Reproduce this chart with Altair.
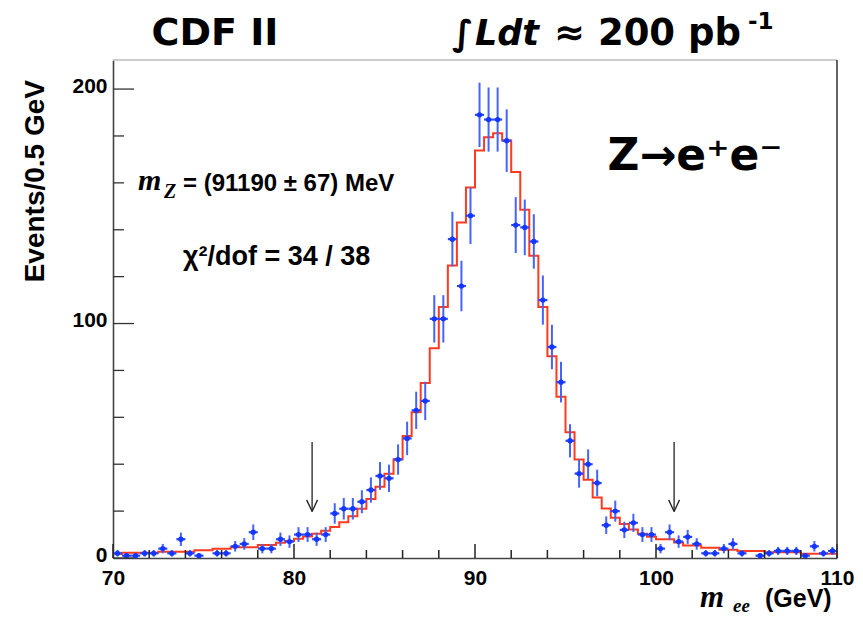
import math
import altair as alt
import pandas as pd

# ---------------- data ----------------
X_MIN, X_MAX, BIN_W = 70.0, 110.0, 0.5
Y_MAX = 212.4

counts = [2, 1, 1, 2, 2, 4, 2, 8, 2, 1,
          0, 2, 2, 5, 6, 11, 4, 4, 8, 7,
          10, 10, 8, 10, 19, 21, 21, 24, 29, 35,
          34, 42, 51, 63, 67, 102, 102, 136, 116, 146,
          189, 187, 187, 178, 142, 141, 135, 110, 90, 75,
          50, 36, 40, 32, 14, 20, 12, 15, 10, 10,
          4, 11, 7, 9, 6, 2, 2, 4, 6, 2,
          0, 1, 2, 3, 3, 3, 1, 5, 2, 3]

fit_vals = [1.8, 2.2, 2.2, 2.2, 2.2, 2.7, 2.7, 2.7, 2.7, 3.3,
            3.3, 3.9, 3.9, 4.6, 4.6, 4.6, 5.5, 5.5, 6.5, 7.3,
            8.2, 9.2, 10.3, 11.6, 13.2, 15.2, 17.8, 21.0, 25.2, 30.4,
            35.9, 42.1, 52.0, 62.2, 74.6, 89.5, 107.0, 124.8, 143.1, 158.0,
            173.8, 179.4, 181.2, 178.1, 164.6, 148.5, 128.9, 107.0, 86.0, 68.8,
            53.6, 42.0, 33.4, 25.8, 21.1, 17.2, 14.5, 12.2, 10.3, 9.1,
            8.0, 8.0, 6.6, 5.3, 5.3, 4.4, 4.4, 3.5, 3.5, 3.0,
            3.0, 3.0, 2.5, 2.5, 2.5, 2.5, 1.8, 1.8, 1.8, 1.8]

x_major = [70, 80, 90, 100, 110]
x_minor = [72, 74, 76, 78, 82, 84, 86, 88, 92, 94, 96, 98, 102, 104, 106, 108]
y_major = [0, 100, 200]
y_minor = [20, 40, 60, 80, 120, 140, 160, 180]

arrow_x = [81.0, 101.0]
arrow_top = [49.5, 49.5]
arrow_tip = [19.8, 19.8]

# ---------------- tables ----------------
W, H = 724, 498
centers = [X_MIN + BIN_W * (i + 0.5) for i in range(len(counts))]
pts = pd.DataFrame({"c": centers, "n": counts})
pts = pts[pts["n"] > 0].copy()
pts["lo"] = pts["n"] - pts["n"].apply(math.sqrt)
pts["hi"] = pts["n"] + pts["n"].apply(math.sqrt)
pts["xl"] = pts["c"] - BIN_W / 2
pts["xr"] = pts["c"] + BIN_W / 2

edges = [X_MIN + BIN_W * i for i in range(len(fit_vals) + 1)]
fit_df = pd.DataFrame({"x": edges, "y": fit_vals + [fit_vals[-1]]})

arr = pd.DataFrame({"x": arrow_x, "top": arrow_top, "tip": arrow_tip})
heads = []
for ax, tp in zip(arrow_x, arrow_tip):
    heads.append({"x1": ax - 0.3, "y1": tp + 5.0, "x2": ax, "y2": tp})
    heads.append({"x1": ax + 0.3, "y1": tp + 5.0, "x2": ax, "y2": tp})
heads = pd.DataFrame(heads)

xs = alt.Scale(domain=[X_MIN, X_MAX], nice=False, zero=False)
ys = alt.Scale(domain=[0, Y_MAX], nice=False, zero=False)
XA = alt.Axis(values=x_major, ticks=False, grid=False, title=None, labelFlush=False,
              labelPadding=9, format="d")
YA = alt.Axis(values=y_major, ticks=False, grid=False, title=None, labelPadding=6,
              labelOffset=-3, format="d")

SANS = "Liberation Sans"
COMIC = "DejaVu Sans"
SERIF = "Liberation Serif"

fit_line = alt.Chart(fit_df).mark_line(interpolate="step-after", color="#ff3b1f",
                                       strokeWidth=2).encode(
    x=alt.X("x:Q", scale=xs, axis=XA), y=alt.Y("y:Q", scale=ys, axis=YA))

vbar = alt.Chart(pts).mark_rule(color="#4563ff", strokeWidth=2).encode(
    x=alt.X("c:Q", scale=xs, axis=XA), y=alt.Y("lo:Q", scale=ys, axis=YA), y2="hi:Q")
hbar = alt.Chart(pts).mark_rule(color="#2848ff", strokeWidth=2.2).encode(
    x=alt.X("xl:Q", scale=xs, axis=XA), x2="xr:Q", y=alt.Y("n:Q", scale=ys, axis=YA))
dots = alt.Chart(pts).mark_circle(color="#1436ff", size=28, opacity=1).encode(
    x=alt.X("c:Q", scale=xs, axis=XA), y=alt.Y("n:Q", scale=ys, axis=YA))

shaft = alt.Chart(arr).mark_rule(color="#222", strokeWidth=1.3).encode(
    x=alt.X("x:Q", scale=xs, axis=XA), y=alt.Y("top:Q", scale=ys, axis=YA), y2="tip:Q")
head = alt.Chart(heads).mark_rule(color="#222", strokeWidth=1.3).encode(
    x=alt.X("x1:Q", scale=xs, axis=XA), x2="x2:Q",
    y=alt.Y("y1:Q", scale=ys, axis=YA), y2="y2:Q")

ytk_major = alt.Chart(pd.DataFrame({"v": y_major})).mark_rule(color="#333", strokeWidth=1.3).encode(
    y=alt.Y("v:Q", scale=ys, axis=YA), x=alt.value(0), x2=alt.value(21))
ytk_minor = alt.Chart(pd.DataFrame({"v": y_minor})).mark_rule(color="#333", strokeWidth=1.3).encode(
    y=alt.Y("v:Q", scale=ys, axis=YA), x=alt.value(0), x2=alt.value(11))
xtk_major = alt.Chart(pd.DataFrame({"v": x_major})).mark_rule(color="#222", strokeWidth=1.5).encode(
    x=alt.X("v:Q", scale=xs, axis=XA), y=alt.value(H), y2=alt.value(H - 14))
xtk_minor = alt.Chart(pd.DataFrame({"v": x_minor})).mark_rule(color="#222", strokeWidth=1.5).encode(
    x=alt.X("v:Q", scale=xs, axis=XA), y=alt.value(H), y2=alt.value(H - 8))

frame_top = alt.Chart(pd.DataFrame({"a": [0]})).mark_rule(color="#bbbbbb", strokeWidth=1.3).encode(
    x=alt.value(0), x2=alt.value(W), y=alt.value(0))
frame_right = alt.Chart(pd.DataFrame({"a": [0]})).mark_rule(color="#333333", strokeWidth=1.5).encode(
    x=alt.value(W), y=alt.value(0), y2=alt.value(H))


def txt(s, x, y, size, font=SANS, style="normal", weight="bold", align="left",
        angle=0, baseline="alphabetic"):
    m = dict(font=font, fontSize=size, fontStyle=style, fontWeight=weight,
             align=align, baseline=baseline, color="black")
    if angle:
        m["angle"] = angle
    return alt.Chart(pd.DataFrame({"t": [s]})).mark_text(**m).encode(
        text="t:N", x=alt.value(x), y=alt.value(y))


texts = [
    txt("CDF II", 102, -15, 38, font=COMIC, align="center"),
    txt("\u222b", 339, -15, 35, font=COMIC),
    txt("Ldt", 362, -15, 35, font=COMIC, style="italic"),
    txt("\u2248 200 pb", 441, -15, 37, font=COMIC),
    txt("-1", 635, -31, 23, font=COMIC),
    txt("Z\u2192e\u207ae\u207b", 582, 110, 44, font=COMIC, align="center"),
    txt("m", 25, 130, 30, font=SERIF, style="italic"),
    txt("Z", 51, 138, 20, font=SERIF, style="italic"),
    txt("= (91190 \u00b1 67) MeV", 70, 131, 24),
    txt("\u03c7\u00b2/dof = 34 / 38", 70, 205, 27),
    txt("Events/0.5 GeV", -77, 20, 28, align="right", angle=270, baseline="middle"),
    txt("m", 587, 547, 31, font=SERIF, style="italic"),
    txt("ee", 620, 552, 19, font=SERIF, style="italic"),
    txt("(GeV)", 652, 547, 25),
]

chart = alt.layer(
    fit_line, vbar, hbar, dots, shaft, head,
    ytk_major, ytk_minor, xtk_major, xtk_minor, frame_top, frame_right,
    *texts
).properties(
    width=W, height=H,
    autosize=alt.AutoSizeParams(type="none"),
    padding={"left": 113, "top": 60, "right": 26, "bottom": 60},
    background="white",
).configure_view(stroke=None).configure_axis(
    labelFont=SANS, labelFontSize=21, labelFontWeight="bold", labelColor="black",
    domainColor="#444", domainWidth=1.6,
)

chart.save("out.html", embed_options={"renderer": "svg", "actions": False})
